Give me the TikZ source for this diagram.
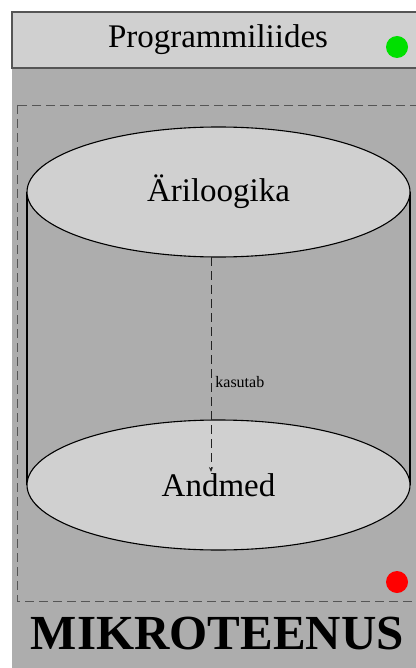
\documentclass[tikz,border=0pt]{standalone}
\usepackage{fontspec}
\setmainfont{Liberation Serif}
\usetikzlibrary{shapes.geometric,arrows.meta}
\definecolor{panelgray}{HTML}{ADADAD}
\definecolor{lidgray}{HTML}{D0D0D0}
\definecolor{edgegray}{HTML}{555555}
\definecolor{okgreen}{HTML}{00E000}
\tikzset{
  layer/.style={ellipse, draw=black, line width=1.1pt, fill=lidgray,
    minimum width=383pt, minimum height=130pt, inner sep=0pt,
    font=\fontsize{33}{36}\selectfont},
  lamp/.style={circle, inner sep=0pt, minimum size=22pt},
  bound/.style={draw=edgegray, line width=0.9pt, dash pattern=on 9pt off 5pt}
}
\begin{document}
\begin{tikzpicture}[x=1pt,y=-1pt]
      \useasboundingbox (0,0) rectangle (415,668);
      \fill[white] (0,0) rectangle (415,668);
      \fill[panelgray] (12,68) rectangle (420,670);
      \draw[edgegray, line width=1.2pt, fill=lidgray] (12,12) rectangle (422,68);
      \draw
        (218,40) node[font=\fontsize{33}{36}\selectfont] (title){Programmiliides}
        (397,47) node[lamp, fill=okgreen] (greenlamp){}
        (397,582) node[lamp, fill=red] (redlamp){}
        (217.5,634) node[font=\bfseries\fontsize{49}{52}\selectfont] (service){MIKROTEENUS};
      \draw[bound] (17,105) rectangle (422,601);
      % silinder
      \draw[line width=1.1pt] (27,192) -- (27,485) (410,192) -- (410,485);
      \node[layer] (andmed) at (218.5,485) {Andmed};
      \node[layer] (loogika) at (218.5,192) {Äriloogika};
      \coordinate (usefrom) at (211,257);
      \coordinate (useto) at (211,472);
      \begin{scope}[edgegray!40!black, line width=0.8pt]
        \draw[dash pattern=on 9pt off 5pt, -{Stealth[length=5pt,width=4pt]}]
          (usefrom) -- node[pos=0.58, anchor=west, inner sep=4pt,
            text=black, font=\fontsize{16}{18}\selectfont] (uselabel){kasutab} (useto);
      \end{scope}
    \end{tikzpicture}
\end{document}
